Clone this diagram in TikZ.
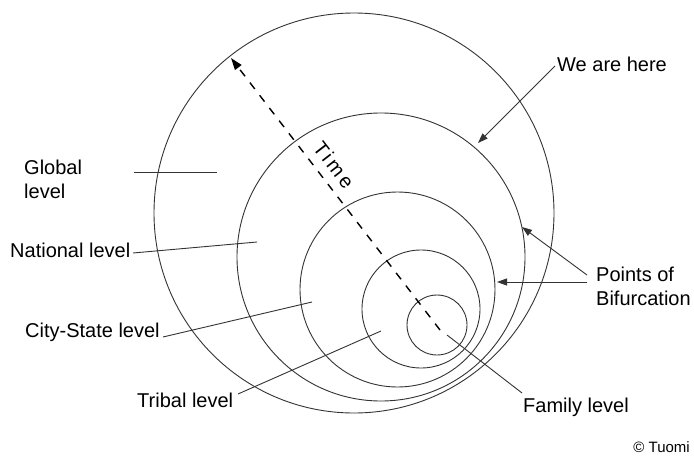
\documentclass[tikz,border=0pt]{standalone}
\usepackage{fontspec}
\setmainfont{Liberation Sans}
\usetikzlibrary{arrows.meta}
\begin{document}
\begin{tikzpicture}[x=1pt,y=-1pt,
  ring/.style={draw=black!80,line width=0.9pt},
  leader/.style={draw=black!80,line width=0.9pt},
  pointer/.style={draw=black!80,line width=0.9pt,-{Triangle[length=10pt,width=7pt]}},
  lbl/.style={inner sep=0pt,font=\fontsize{20}{23.5}\selectfont,text=black},
  timeline/.style={draw=black,line width=1.4pt,dash pattern=on 8pt off 8pt,-{Triangle[length=12pt,width=8pt]}}]
\useasboundingbox[fill=white] (0,0) rectangle (694,458);
% circles
\draw[ring] (354,213) circle[radius=200];
\draw[ring] (381,257) circle[radius=144];
\draw[ring] (397.5,289.5) circle[radius=97.5];
\draw[ring] (421,309) circle[radius=59];
\draw[ring] (437,325) circle[radius=30];
% time arrow
\coordinate (tstart) at (440,330);
\coordinate (tend) at (231,58);
\draw[timeline] (tstart) -- (tend);
\node[lbl,rotate=-52.3] (time) at (334,165) {\addfontfeature{LetterSpace=15}Time};
% labels
\node[lbl,align=left,anchor=west] (global) at (24,179.5) {Global\\level};
\coordinate (g1) at (134,172);
\coordinate (g2) at (217,172);
\draw[leader] (g1) -- (g2);
\node[lbl,anchor=base west] (national) at (10,257) {National level};
\coordinate (n1) at (133,253);
\coordinate (n2) at (257,242);
\draw[leader] (n1) -- (n2);
\node[lbl,anchor=base west] (city) at (25,337) {City-State level};
\coordinate (c1) at (163,337);
\coordinate (c2) at (312,302);
\draw[leader] (c1) -- (c2);
\node[lbl,anchor=base west] (tribal) at (137,407) {Tribal level};
\coordinate (t1) at (238,394);
\coordinate (t2) at (381,331);
\draw[leader] (t1) -- (t2);
\node[lbl,anchor=base west] (family) at (523,412) {Family level};
\coordinate (f1) at (522,393);
\coordinate (f2) at (447,335);
\draw[leader] (f1) -- (f2);
\node[lbl,anchor=base west] (here) at (557,71) {We are here};
\coordinate (h1) at (555,66);
\coordinate (h2) at (478,143);
\draw[pointer] (h1) -- (h2);
\node[lbl,align=left,anchor=west] (bif) at (596,286.2) {Points of\\Bifurcation};
\coordinate (b1) at (587,275);
\coordinate (b2) at (522,227);
\coordinate (b3) at (587,282);
\coordinate (b4) at (497,282);
\draw[pointer] (b1) -- (b2);
\draw[pointer] (b3) -- (b4);
\node[inner sep=0pt,font=\fontsize{15}{17}\selectfont,anchor=base east] (copy) at (690,452) {© Tuomi};
\end{tikzpicture}
\end{document}
